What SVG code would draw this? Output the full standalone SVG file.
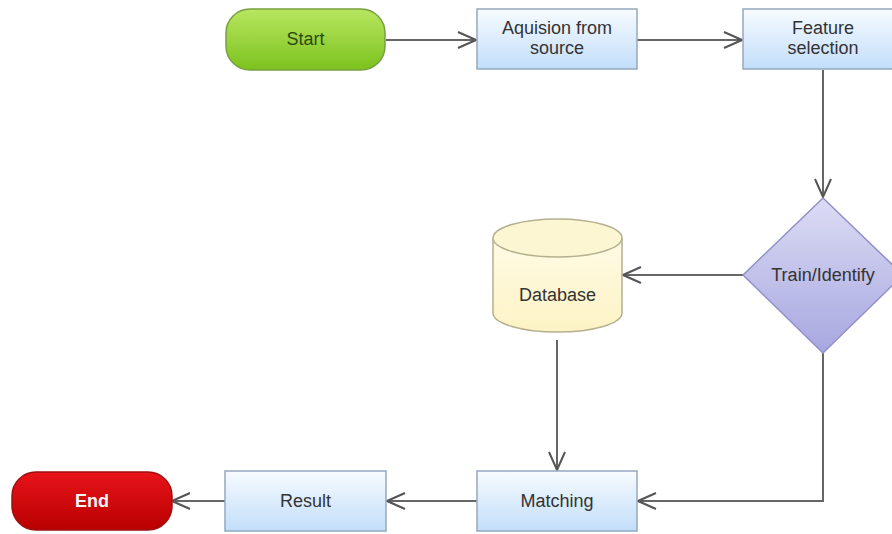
<svg xmlns="http://www.w3.org/2000/svg" width="892" height="534" viewBox="0 0 892 534">
<defs>
<linearGradient id="gBlue" x1="0" y1="0" x2="0" y2="1">
<stop offset="0" stop-color="#f7fbff"/>
<stop offset="1" stop-color="#c2defa"/>
</linearGradient>
<linearGradient id="gGreen" x1="0" y1="0" x2="0" y2="1">
<stop offset="0" stop-color="#b8e660"/>
<stop offset="1" stop-color="#7cc21e"/>
</linearGradient>
<linearGradient id="gRed" x1="0" y1="0" x2="0" y2="1">
<stop offset="0" stop-color="#e8141a"/>
<stop offset="1" stop-color="#b80000"/>
</linearGradient>
<linearGradient id="gViolet" x1="0" y1="0" x2="0" y2="1">
<stop offset="0" stop-color="#dcdcf4"/>
<stop offset="1" stop-color="#a7a7e0"/>
</linearGradient>
<linearGradient id="gYellow" x1="0" y1="0" x2="0" y2="1">
<stop offset="0" stop-color="#fffbe6"/>
<stop offset="1" stop-color="#fdf3c4"/>
</linearGradient>
<marker id="arr" viewBox="0 0 20 20" refX="19" refY="10" markerWidth="20" markerHeight="20" markerUnits="userSpaceOnUse" orient="auto">
<path d="M1,2 L19,10 L1,18" fill="none" stroke="#555" stroke-width="2"/>
</marker>
<style>
.box{fill:url(#gBlue);stroke:#95a9bf;stroke-width:1.5}
.t{font-family:"Liberation Sans",Arial,sans-serif;font-size:18px;fill:#333;text-anchor:middle}
.c{fill:none;stroke:#666;stroke-width:2;marker-end:url(#arr)}
</style>
</defs>
<rect width="892" height="534" fill="#ffffff"/>
<g id="connectors">
<path class="c" d="M386,40 L476,40"/>
<path class="c" d="M637,40 L742,40"/>
<path class="c" d="M823,70 L823,197"/>
<path class="c" d="M743,275 L623,275"/>
<path class="c" d="M557,340 L557,470"/>
<path class="c" d="M823,353 L823,501 L638,501"/>
<path class="c" d="M477,501 L387,501"/>
<path class="c" d="M225,501 L172,501"/>
</g>
<g id="start">
<rect x="226" y="9" width="159" height="61" rx="24" ry="24" fill="url(#gGreen)" stroke="#78a040" stroke-width="1.5"/>
<text class="t" x="305.5" y="45" style="fill:#2a4a10">Start</text>
</g>
<g id="aquision">
<rect class="box" x="477" y="9" width="160" height="60"/>
<text class="t" x="557" y="34">Aquision from</text>
<text class="t" x="557" y="54">source</text>
</g>
<g id="feature">
<rect class="box" x="743" y="9" width="160" height="60"/>
<text class="t" x="823" y="34">Feature</text>
<text class="t" x="823" y="54">selection</text>
</g>
<g id="train">
<path d="M823,198 L903,275 L823,353 L743,275 Z" fill="url(#gViolet)" stroke="#9090c8" stroke-width="1.5"/>
<text class="t" x="823" y="281">Train/Identify</text>
</g>
<g id="database">
<path d="M493,238 L493,313 A64.5,19 0 0 0 622,313 L622,238" fill="url(#gYellow)" stroke="#b5b090" stroke-width="1.5"/>
<ellipse cx="557.5" cy="238" rx="64.5" ry="19" fill="#fdf6d2" stroke="#b5b090" stroke-width="1.5"/>
<text class="t" x="557.5" y="301">Database</text>
</g>
<g id="matching">
<rect class="box" x="477" y="471" width="160" height="60"/>
<text class="t" x="557" y="507">Matching</text>
</g>
<g id="result">
<rect class="box" x="225" y="471" width="161" height="60"/>
<text class="t" x="305.5" y="507">Result</text>
</g>
<g id="end">
<rect x="12" y="472" width="160" height="58" rx="24" ry="24" fill="url(#gRed)" stroke="#a01010" stroke-width="1.5"/>
<text class="t" x="92" y="507" style="fill:#f5f5f5;font-weight:bold">End</text>
</g>
</svg>
